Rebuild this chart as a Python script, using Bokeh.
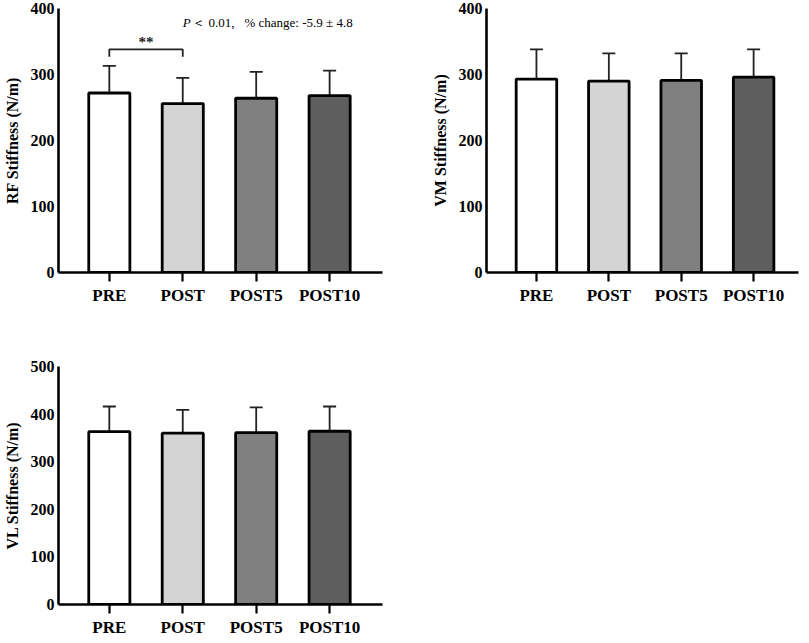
from bokeh.plotting import figure
from bokeh.models import ColumnDataSource, Whisker, TeeHead, FixedTicker
from bokeh.layouts import column, row
from bokeh.core.properties import value
from bokeh.embed import file_html
from bokeh.resources import INLINE

categories = ["PRE", "POST", "POST5", "POST10"]
bar_colors = ["#ffffff", "#d4d4d4", "#808080", "#5e5e5e"]

rf_mean = [272, 256, 264, 268]
rf_sd = [41, 39, 40, 38]

vm_mean = [293, 290, 291, 296]
vm_sd = [45, 42, 41, 42]

vl_mean = [363, 360, 361, 364]
vl_sd = [53, 49, 53, 52]

rf_ticks = [0, 100, 200, 300, 400]
vm_ticks = [0, 100, 200, 300, 400]
vl_ticks = [0, 100, 200, 300, 400, 500]

FONT = "Liberation Serif"


def make_panel(means, sds, ylabel, ticks, width, height, mbl, mbr, mbt, mbb, xr):
    xs = list(range(len(categories)))
    src = ColumnDataSource(dict(
        x=xs, mean=means, upper=[m + s for m, s in zip(means, sds)],
        color=bar_colors))
    p = figure(width=width, height=height, x_range=xr,
               y_range=(ticks[0], ticks[-1]),
               output_backend="svg", toolbar_location=None,
               min_border_left=mbl, min_border_right=mbr,
               min_border_top=mbt, min_border_bottom=mbb)
    p.outline_line_color = None
    p.grid.visible = False
    p.background_fill_color = "white"

    w = Whisker(source=src, base="x", lower="mean", upper="upper",
                line_color="#222222", line_width=1.8,
                upper_head=TeeHead(size=13, line_color="#222222", line_width=1.8),
                lower_head=None)
    p.add_layout(w)
    p.vbar(x="x", top="mean", bottom=0, width=0.56, source=src,
           fill_color="color", line_color="black", line_width=2.8)

    p.xaxis.ticker = FixedTicker(ticks=xs)
    p.xaxis.major_label_overrides = {i: c for i, c in enumerate(categories)}
    p.xaxis.minor_tick_line_color = None
    p.xaxis.major_tick_in = 0
    p.xaxis.major_tick_out = 9
    p.xaxis.major_tick_line_width = 2.2
    p.xaxis.axis_line_width = 2.6
    p.xaxis.major_label_text_font = FONT
    p.xaxis.major_label_text_font_style = "bold"
    p.xaxis.major_label_text_font_size = "17px"
    p.xaxis.major_label_text_color = "black"
    p.xaxis.major_label_standoff = 4

    p.yaxis.ticker = FixedTicker(ticks=ticks)
    p.yaxis.minor_tick_line_color = None
    p.yaxis.major_tick_line_color = None
    p.yaxis.major_tick_in = 0
    p.yaxis.major_tick_out = 0
    p.yaxis.axis_line_width = 2.6
    p.yaxis.major_label_text_font = FONT
    p.yaxis.major_label_text_font_style = "bold"
    p.yaxis.major_label_text_font_size = "16px"
    p.yaxis.major_label_text_color = "black"
    p.yaxis.major_label_standoff = 4
    p.yaxis.axis_label = ylabel
    p.yaxis.axis_label_text_font = FONT
    p.yaxis.axis_label_text_font_style = "bold"
    p.yaxis.axis_label_text_font_size = "16px"
    p.yaxis.axis_label_text_color = "black"
    p.yaxis.axis_label_standoff = 7
    return p


p1 = make_panel(rf_mean, rf_sd, "RF Stiffness (N/m)", rf_ticks,
                392, 330, 57, 10, 8, 58, (-0.692, 3.72))
# significance bracket between PRE and POST
bx = [0, 0, 1, 1]
by = [327, 338, 338, 327]
p1.line(x=bx, y=by, line_color="#222222", line_width=1.8)
p1.text(x=[0.5], y=[350], text=["**"], text_align="center",
        text_baseline="middle", text_font=value(FONT),
        text_font_style="bold", text_font_size="15px", text_color="#222222")
p1.text(x=[1.0], y=[379], text=["P"], text_align="left",
        text_baseline="middle", text_font=value(FONT),
        text_font_style="italic", text_font_size="13px", text_color="black")
p1.text(x=[1.13], y=[379], text=["＜ 0.01,"],
        text_align="left", text_baseline="middle", text_font=value(FONT),
        text_font_size="13px", text_color="black")
p1.text(x=[1.84], y=[379], text=["% change: -5.9 ± 4.8"],
        text_align="left", text_baseline="middle", text_font=value(FONT),
        text_font_size="13px", text_color="black")

p2 = make_panel(vm_mean, vm_sd, "VM Stiffness (N/m)", vm_ticks,
                409, 330, 94, 3, 8, 58, (-0.69, 3.62))

p3 = make_panel(vl_mean, vl_sd, "VL Stiffness (N/m)", vl_ticks,
                392, 310, 57, 10, 36, 36, (-0.692, 3.72))

layout = column(row(p1, p2), p3)
open("out.html", "w").write(file_html(layout, INLINE))
